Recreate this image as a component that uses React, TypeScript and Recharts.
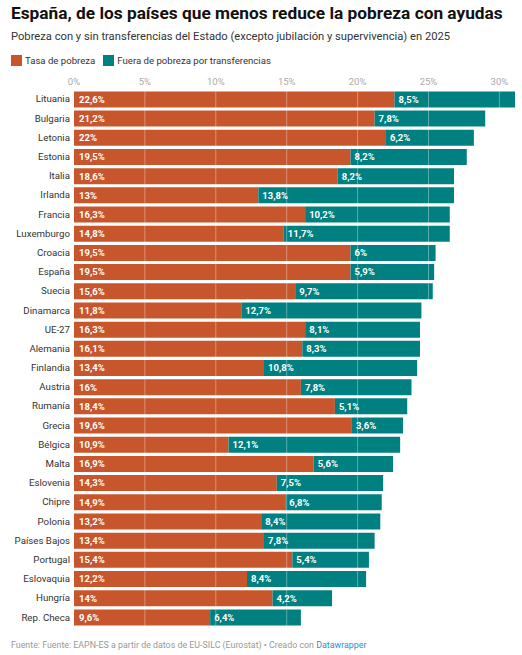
import React from 'react';
import { BarChart, Bar, XAxis, YAxis, ReferenceLine, LabelList } from 'recharts';

const countries = ['Lituania', 'Bulgaria', 'Letonia', 'Estonia', 'Italia', 'Irlanda', 'Francia', 'Luxemburgo', 'Croacia', 'España', 'Suecia', 'Dinamarca', 'UE-27', 'Alemania', 'Finlandia', 'Austria', 'Rumanía', 'Grecia', 'Bélgica', 'Malta', 'Eslovenia', 'Chipre', 'Polonia', 'Países Bajos', 'Portugal', 'Eslovaquia', 'Hungría', 'Rep. Checa'];
const tasa = [22.6, 21.2, 22, 19.5, 18.6, 13, 16.3, 14.8, 19.5, 19.5, 15.6, 11.8, 16.3, 16.1, 13.4, 16, 18.4, 19.6, 10.9, 16.9, 14.3, 14.9, 13.2, 13.4, 15.4, 12.2, 14, 9.6];
const fuera = [8.5, 7.8, 6.2, 8.2, 8.2, 13.8, 10.2, 11.7, 6, 5.9, 9.7, 12.7, 8.1, 8.3, 10.8, 7.8, 5.1, 3.6, 12.1, 5.6, 7.5, 6.8, 8.4, 7.8, 5.4, 8.4, 4.2, 6.4];
const ticks = [0, 5, 10, 15, 20, 25, 30];

const data = countries.map((name, i) => ({ name, tasa: tasa[i], fuera: fuera[i] }));
const fmt = (v: number) => `${String(v).replace('.', ',')}%`;
const font = 'Roboto, sans-serif';

const labelStyle = { fill: '#fff', fontSize: 9.5, fontWeight: 700, fontFamily: font };

const LegendItem = ({ color, text }: { color: string; text: string }) => (
  <span style={{ display: 'inline-flex', alignItems: 'center', marginRight: 8 }}>
    <span style={{ width: 11, height: 11, background: color, marginRight: 3, display: 'inline-block' }} />
    {text}
  </span>
);

// plain tick so "Países Bajos" stays on one line
const CountryTick = ({ x, y, payload }: any) => (
  <text x={x} y={y} dy={3.5} textAnchor="end" fontSize={9.7} fill="#333" fontFamily={font}>
    {payload.value}
  </text>
);

export default function App() {
  return (
    <div style={{ position: 'absolute', left: 0, top: 0, width: 522, height: 655, background: '#fff', fontFamily: font, overflow: 'hidden' }}>
      <div style={{ position: 'absolute', left: 11, top: 3, fontSize: 17.3, fontWeight: 700, color: '#111', whiteSpace: 'nowrap' }}>
        España, de los países que menos reduce la pobreza con ayudas
      </div>
      <div style={{ position: 'absolute', left: 11, top: 30, fontSize: 11.2, color: '#333', whiteSpace: 'nowrap' }}>
        Pobreza con y sin transferencias del Estado (excepto jubilación y supervivencia) en 2025
      </div>
      <div style={{ position: 'absolute', left: 11, top: 55, fontSize: 9.6, color: '#333', whiteSpace: 'nowrap' }}>
        <LegendItem color="#c8562d" text="Tasa de pobreza" />
        <LegendItem color="#008080" text="Fuera de pobreza por transferencias" />
      </div>
      <div style={{ position: 'absolute', left: 0, top: 0 }}>
        <BarChart
          width={522}
          height={640}
          data={data}
          layout="vertical"
          barSize={16}
          margin={{ top: 69.4, right: 7, left: 0, bottom: 13.4 }}
        >
          <XAxis
            type="number"
            orientation="top"
            domain={[0, 31.1]}
            ticks={ticks}
            tickFormatter={(v: number) => `${v}%`}
            axisLine={false}
            tickLine={false}
            height={20}
            tickSize={0}
            tickMargin={4}
            tick={{ fontSize: 9.5, fill: '#aaa', fontFamily: font }}
          />
          <YAxis
            type="category"
            dataKey="name"
            width={74}
            axisLine={false}
            tickLine={false}
            tickSize={0}
            tickMargin={4}
            interval={0}
            tick={<CountryTick />}
          />
          <Bar dataKey="tasa" stackId="a" fill="#c8562d" isAnimationActive={false}>
            <LabelList dataKey="tasa" position="insideLeft" offset={5} formatter={fmt} style={labelStyle} />
          </Bar>
          <Bar dataKey="fuera" stackId="a" fill="#008080" isAnimationActive={false}>
            <LabelList dataKey="fuera" position="insideLeft" offset={4} formatter={fmt} style={labelStyle} />
          </Bar>
          {ticks.slice(1).map((t) => (
            <ReferenceLine key={t} x={t} stroke="#ffffff" strokeOpacity={0.35} />
          ))}
        </BarChart>
      </div>
      <div style={{ position: 'absolute', left: 11, top: 640, fontSize: 8.85, color: '#999', whiteSpace: 'nowrap' }}>
        Fuente: Fuente: EAPN-ES a partir de datos de EU-SILC (Eurostat) • Creado con <span style={{ color: '#2a8fd0' }}>Datawrapper</span>
      </div>
    </div>
  );
}
